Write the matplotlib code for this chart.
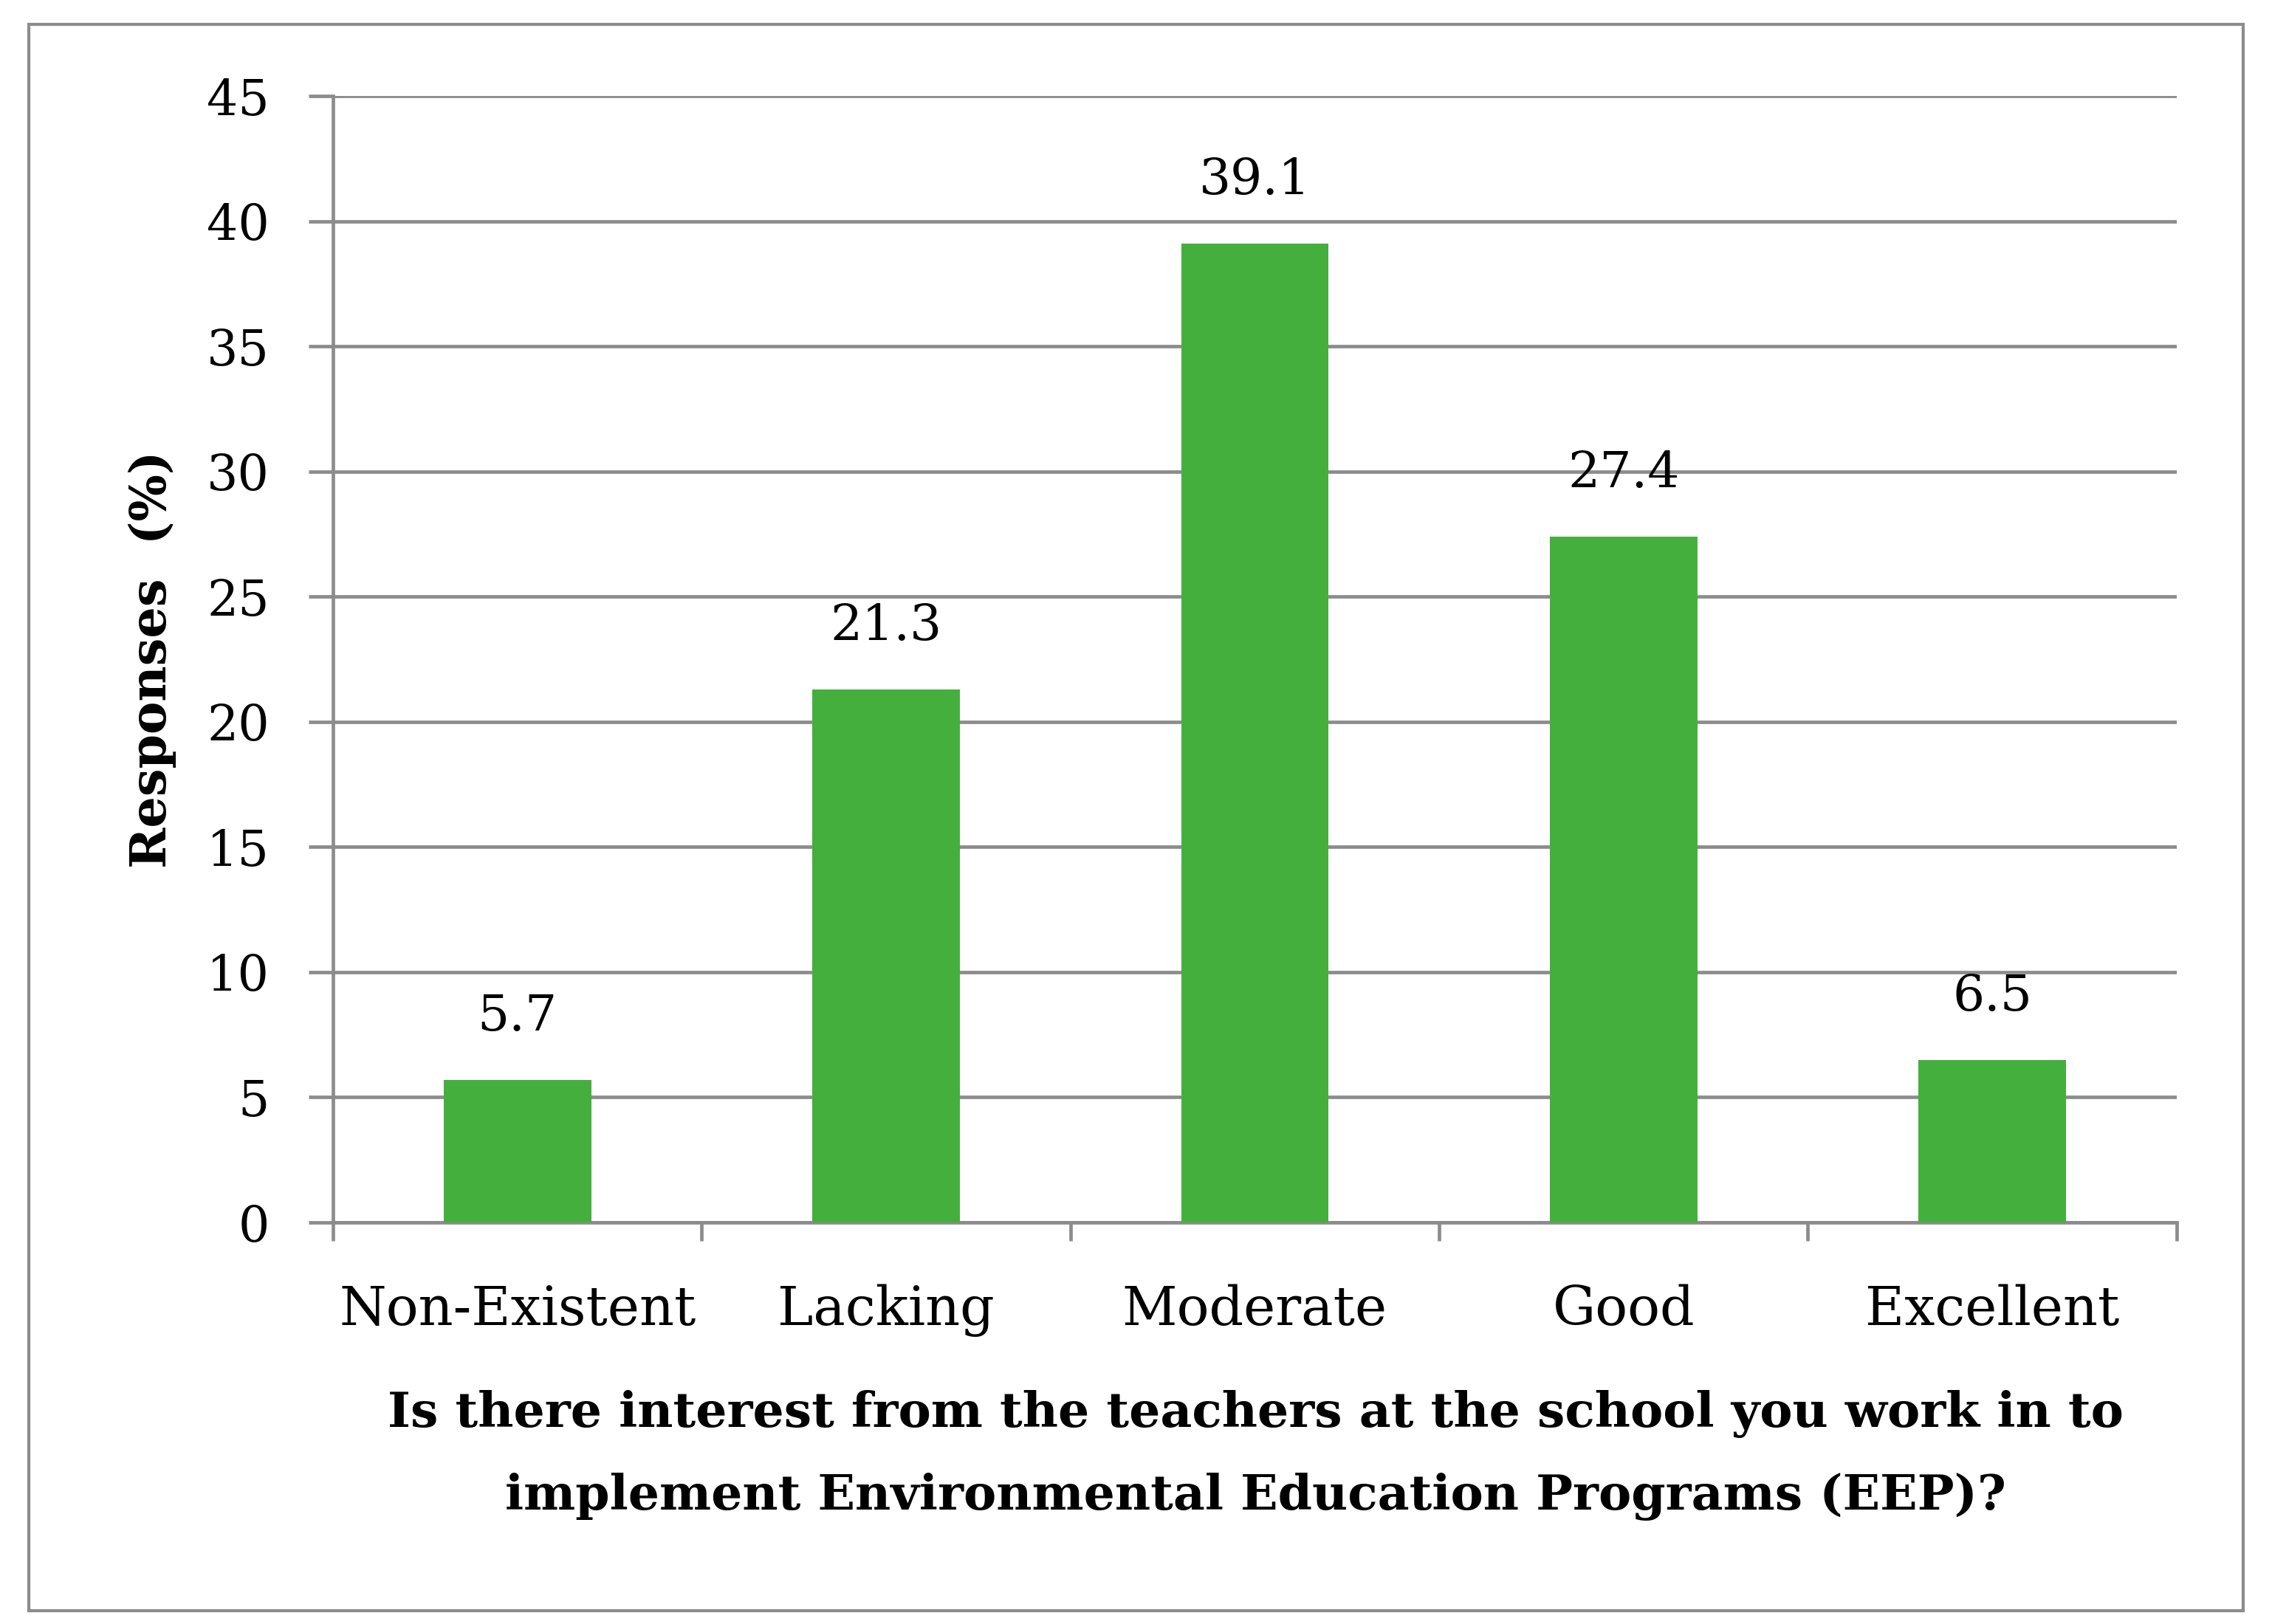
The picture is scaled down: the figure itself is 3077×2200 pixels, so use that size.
import matplotlib
matplotlib.use("Agg")
import matplotlib.pyplot as plt
from matplotlib.patches import Rectangle
import numpy as np

# Datos
categories = ["Non-Existent", "Lacking", "Moderate", "Good", "Excellent"]
responses = [5.7, 21.3, 39.1, 27.4, 6.5]
y_ticks = [0, 5, 10, 15, 20, 25, 30, 35, 40, 45]

green = "#44AF3D"
grey = "#8C8C8C"
serif = ["DejaVu Serif"]

plt.rcParams["font.family"] = serif

fig = plt.figure(figsize=(30.77, 22), dpi=100)
ax = fig.add_axes([0.1466, 0.2473, 0.958 - 0.1466, 0.9409 - 0.2473])

x = np.arange(len(categories))
ax.bar(x, responses, width=0.40, color=green, zorder=3)

# Etiquetas de valor sobre cada barra
for xi, v in zip(x, responses):
    ax.annotate(f"{v:.1f}", (xi, v), xytext=(0, 38), textcoords="offset points",
                ha="center", va="bottom", fontsize=49, color="black")

ax.set_xlim(-0.5, len(categories) - 0.5)
ax.set_ylim(0, 45)
ax.set_yticks(y_ticks)
ax.set_yticklabels([str(t) for t in y_ticks], fontsize=48)
ax.yaxis.grid(True, color=grey, linewidth=3.4, zorder=0)
ax.tick_params(axis="y", length=24, width=3.4, color=grey, pad=38)

ax.set_xticks(x)
ax.set_xticklabels(categories, fontsize=52.5)
ax.set_xticks(np.arange(len(categories) + 1) - 0.5, minor=True)
ax.tick_params(axis="x", which="major", length=0, pad=60)
ax.tick_params(axis="x", which="minor", length=18, width=3.4, color=grey)

for s in ["top", "right"]:
    ax.spines[s].set_visible(False)
for s in ["left", "bottom"]:
    ax.spines[s].set_color(grey)
    ax.spines[s].set_linewidth(3.4)

ax.set_ylabel("Responses  (%)", fontsize=48, fontweight="bold")
ax.yaxis.set_label_coords(-0.085, 0.5)

fig.text(0.5525, 0.1295, "Is there interest from the teachers at the school you work in to",
         ha="center", va="center", fontsize=47.8, fontweight="bold")
fig.text(0.5525, 0.0786, "implement Environmental Education Programs (EEP)?",
         ha="center", va="center", fontsize=47.8, fontweight="bold")

# Marco exterior
fig.patches.append(Rectangle((39 / 3077, 1 - 2182 / 2200), (3038 - 39) / 3077, (2182 - 33) / 2200,
                             transform=fig.transFigure, fill=False, edgecolor=grey, linewidth=3))

fig.savefig("out.png", dpi=100)
